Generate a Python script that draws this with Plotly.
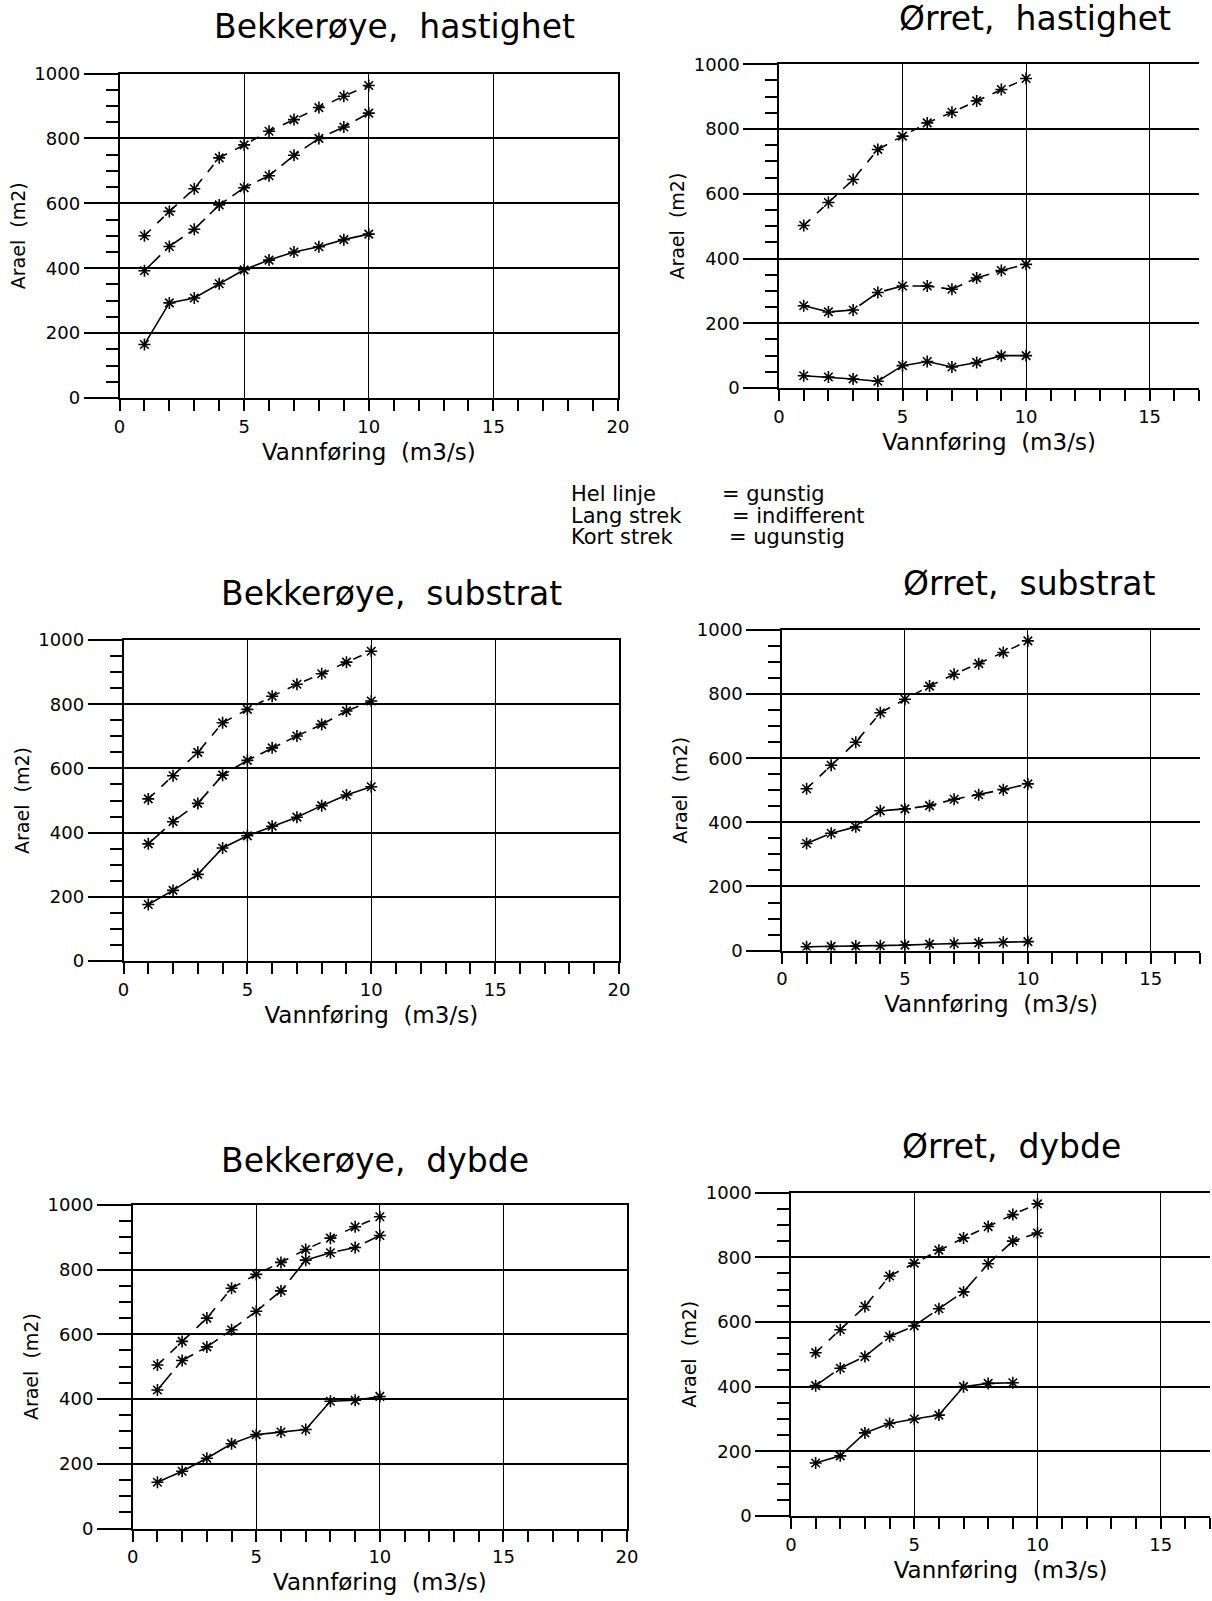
import plotly.graph_objects as go

# ---------------- data ----------------
vannforing = [1, 2, 3, 4, 5, 6, 7, 8, 9, 10]

bh_ugunstig = [500, 575, 645, 740, 780, 822, 858, 895, 930, 963]
bh_indifferent = [392, 467, 520, 595, 648, 685, 748, 800, 835, 878]
bh_gunstig = [165, 293, 308, 352, 395, 425, 450, 466, 488, 505]

oh_ugunstig = [502, 573, 644, 737, 778, 819, 852, 887, 922, 956]
oh_indifferent = [254, 235, 241, 295, 315, 315, 305, 340, 363, 382]
oh_gunstig = [38, 34, 28, 21, 69, 82, 65, 79, 100, 100]

bs_ugunstig = [505, 577, 650, 742, 784, 825, 862, 895, 931, 965]
bs_indifferent = [365, 434, 491, 579, 625, 664, 701, 737, 779, 810]
bs_gunstig = [176, 220, 270, 352, 390, 420, 448, 484, 517, 543]

os_ugunstig = [505, 578, 650, 742, 784, 825, 862, 895, 930, 966]
os_indifferent = [334, 366, 386, 436, 442, 452, 472, 486, 502, 520]
os_gunstig = [12, 13, 14, 15, 17, 20, 22, 24, 26, 28]

bd_ugunstig = [505, 578, 650, 742, 785, 822, 862, 897, 932, 963]
bd_indifferent = [428, 519, 561, 614, 671, 734, 829, 852, 868, 905]
bd_gunstig = [143, 177, 217, 262, 290, 298, 306, 393, 396, 408]

od_ugunstig = [505, 576, 648, 742, 782, 822, 860, 895, 932, 965]
od_indifferent = [403, 457, 493, 555, 588, 641, 693, 780, 850, 875]
od_gunstig = [164, 186, 257, 286, 300, 312, 400, 410, 412]

NB = "\u00a0"
titles = ["Bekkerøye," + NB * 2 + "hastighet", "Ørret," + NB * 2 + "hastighet",
          "Bekkerøye," + NB * 2 + "substrat", "Ørret," + NB * 2 + "substrat",
          "Bekkerøye," + NB * 2 + "dybde", "Ørret," + NB * 2 + "dybde"]
x_tick_vals_left = [0, 5, 10, 15, 20]
x_tick_vals_right = [0, 5, 10, 15]
y_tick_vals = [0, 200, 400, 600, 800, 1000]
x_title = "Vannføring" + NB * 2 + "(m3/s)"
y_title = "Arael" + NB * 2 + "(m2)"
legend_left = ["Hel" + NB + "linje", "Lang" + NB + "strek", "Kort" + NB + "strek"]
legend_right = ["=" + NB + "gunstig", "=" + NB + "indifferent", "=" + NB + "ugunstig"]

panels = [
    (bh_gunstig, bh_indifferent, bh_ugunstig),
    (oh_gunstig, oh_indifferent, oh_ugunstig),
    (bs_gunstig, bs_indifferent, bs_ugunstig),
    (os_gunstig, os_indifferent, os_ugunstig),
    (bd_gunstig, bd_indifferent, bd_ugunstig),
    (od_gunstig, od_indifferent, od_ugunstig),
]

# ---------------- layout (pixel based) ----------------
W, H = 1212, 1601
FONT = "DejaVu Sans"
# (x_left_px, x_right_px, y_top_px, y_bottom_px, xmax)
boxes = [
    (119.5, 618, 73.5, 398, 20),
    (779, 1199, 64.3, 388, 17),
    (123.5, 619, 640, 961, 20),
    (782, 1200, 630, 950.6, 17),
    (132.7, 627, 1204.8, 1528.5, 20),
    (791, 1210, 1192.6, 1516, 17),
]
title_pos = [(395, 26), (1035, 19), (391, 593), (1029, 583), (375, 1160), (1011, 1146)]

dash_styles = ["solid", "22px,7px", "9px,9px"]

fig = go.Figure()
layout = dict(
    width=W, height=H, margin=dict(l=0, r=0, t=0, b=0, autoexpand=False),
    paper_bgcolor="white", plot_bgcolor="white", showlegend=False,
    font=dict(family=FONT, color="black"),
)
annotations = []

for i, (series, box) in enumerate(zip(panels, boxes)):
    k = "" if i == 0 else str(i + 1)
    x0, x1, yt, yb, xmax = box
    for s, dash in zip(series, dash_styles):
        fig.add_trace(go.Scatter(
            x=vannforing[:len(s)], y=s, xaxis="x" + k, yaxis="y" + k,
            mode="lines+markers",
            line=dict(color="black", width=1.6, dash=dash),
            marker=dict(symbol="asterisk-open", size=10,
                        line=dict(color="black", width=1.6)),
        ))
    xticks = x_tick_vals_left if xmax == 20 else x_tick_vals_right
    layout["xaxis" + k] = dict(
        domain=[x0 / W, x1 / W], anchor="y" + k, range=[0, xmax],
        automargin=False,
        tickvals=xticks, ticks="outside", ticklen=11, tickwidth=1.5,
        tickcolor="black",
        minor=dict(dtick=1, ticks="outside", ticklen=11, tickwidth=1.5,
                   tickcolor="black", showgrid=False),
        showgrid=True, gridcolor="black", gridwidth=1.4,
        showline=True, mirror=True, linecolor="black", linewidth=2.2,
        zeroline=False, tickfont=dict(size=18, family=FONT),
        title=dict(text=x_title, font=dict(size=23, family=FONT), standoff=8),
    )
    layout["yaxis" + k] = dict(
        domain=[1 - yb / H, 1 - yt / H], anchor="x" + k, range=[0, 1000],
        automargin=False,
        tickvals=y_tick_vals, ticks="outside", ticklen=34, tickwidth=2.2,
        tickcolor="black",
        minor=dict(dtick=50, ticks="outside", ticklen=12, tickwidth=1.5,
                   tickcolor="black", showgrid=False),
        showgrid=True, gridcolor="black", gridwidth=2.2,
        showline=True, linecolor="black", linewidth=1.5,
        mirror=(xmax == 20),
        zeroline=False, tickfont=dict(size=18, family=FONT),
        title=dict(text=y_title, font=dict(size=19, family=FONT), standoff=4),
    )
    tx, ty = title_pos[i]
    annotations.append(dict(
        text=titles[i], x=tx / W, y=1 - ty / H, xref="paper", yref="paper",
        xanchor="center", yanchor="middle", showarrow=False,
        font=dict(size=33, family=FONT),
    ))

legend_y = [494, 516, 537]
legend_rx = [720, 730, 727]
for lt, rt, ly, rx in zip(legend_left, legend_right, legend_y, legend_rx):
    annotations.append(dict(text=lt, x=569 / W, y=1 - ly / H, xref="paper", yref="paper",
                            xanchor="left", yanchor="middle", showarrow=False,
                            font=dict(size=21, family=FONT)))
    annotations.append(dict(text=rt, x=rx / W, y=1 - ly / H, xref="paper", yref="paper",
                            xanchor="left", yanchor="middle", showarrow=False,
                            font=dict(size=21, family=FONT)))

layout["annotations"] = annotations
fig.update_layout(**layout)
fig.write_html("out.html")
